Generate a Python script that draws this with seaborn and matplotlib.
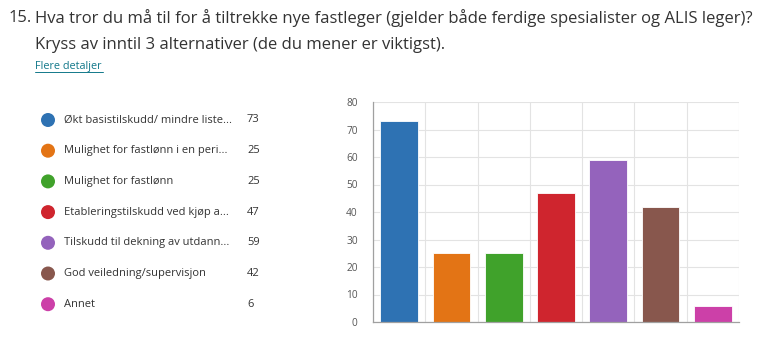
import matplotlib
matplotlib.use("Agg")
import matplotlib.pyplot as plt
from matplotlib.patches import Circle
import seaborn as sns
import pandas as pd

# Survey answers (short labels as shown in the summary) and counts
labels = [
    "Økt basistilskudd/ mindre liste...",
    "Mulighet for fastlønn i en peri...",
    "Mulighet for fastlønn",
    "Etableringstilskudd ved kjøp a...",
    "Tilskudd til dekning av utdann...",
    "God veiledning/supervisjon",
    "Annet",
]
counts = [73, 25, 25, 47, 59, 42, 6]
colors = ["#2e72b3", "#e37415", "#40a22b", "#cf252e", "#9463bc", "#88574d", "#cc40a8"]
y_ticks = [0, 10, 20, 30, 40, 50, 60, 70, 80]

title_num = "15."
title_lines = [
    "Hva tror du må til for å tiltrekke nye fastleger (gjelder både ferdige spesialister og ALIS leger)?",
    "Kryss av inntil 3 alternativer (de du mener er viktigst).",
]
link_text = "Flere detaljer"

sns.set_theme(style="white")
plt.rcParams["font.family"] = ["Open Sans", "DejaVu Sans"]

W, H = 763, 341
fig = plt.figure(figsize=(W / 100, H / 100), dpi=100)
fig.patch.set_facecolor("white")

df = pd.DataFrame({"label": labels, "count": counts})

# Bar chart area
ax = fig.add_axes([373 / W, 19 / H, (739 - 373) / W, (322 - 102) / H])
sns.barplot(data=df, x="label", y="count", hue="label", palette=colors,
            legend=False, width=0.72, ax=ax, saturation=1,
            edgecolor="#ffffff", linewidth=0.6)
n = len(labels)
ax.set_xlim(-0.5, n - 0.5)
ax.set_ylim(0, 80)
ax.set_xticks([i - 0.5 for i in range(n + 1)])
ax.set_xticklabels([])
ax.set_yticks(y_ticks)
ax.set_yticklabels([str(v) for v in y_ticks], fontsize=7.3, color="#555555")
ax.set_xlabel("")
ax.set_ylabel("")
ax.tick_params(axis="both", which="major", length=10, width=0.8, color="#d6d6d6",
               direction="out", pad=1)
ax.grid(True, color="#e3e3e3", linewidth=0.8)
ax.set_axisbelow(True)
for side in ["top", "right"]:
    ax.spines[side].set_visible(False)
ax.spines["left"].set_color("#a0a0a0")
ax.spines["bottom"].set_color("#a0a0a0")
ax.spines["left"].set_linewidth(0.9)
ax.spines["bottom"].set_linewidth(0.9)

# Overlay in pixel units for heading and legend
ov = fig.add_axes([0, 0, 1, 1], zorder=-1)
ov.set_xlim(0, W)
ov.set_ylim(H, 0)
ov.axis("off")

ov.text(9, 18, title_num, fontsize=12, color="#333333", va="center", ha="left")
ov.text(35, 18, title_lines[0], fontsize=12, color="#333333", va="center", ha="left")
ov.text(35, 45, title_lines[1], fontsize=12, color="#333333", va="center", ha="left")
ov.text(35, 66, link_text, fontsize=7.8, color="#12788a", va="center", ha="left")
ov.plot([35, 103], [71.5, 71.5], color="#12788a", linewidth=0.7)

for i, (lab, cnt, col) in enumerate(zip(labels, counts, colors)):
    yc = 120 + i * 30.7
    ov.add_patch(Circle((48, yc), 7, facecolor=col, edgecolor="none"))
    ov.text(64, yc, lab, fontsize=8, color="#333333", va="center", ha="left")
    ov.text(247, yc, str(cnt), fontsize=8, color="#333333", va="center", ha="left")

fig.savefig("out.png", dpi=100)
